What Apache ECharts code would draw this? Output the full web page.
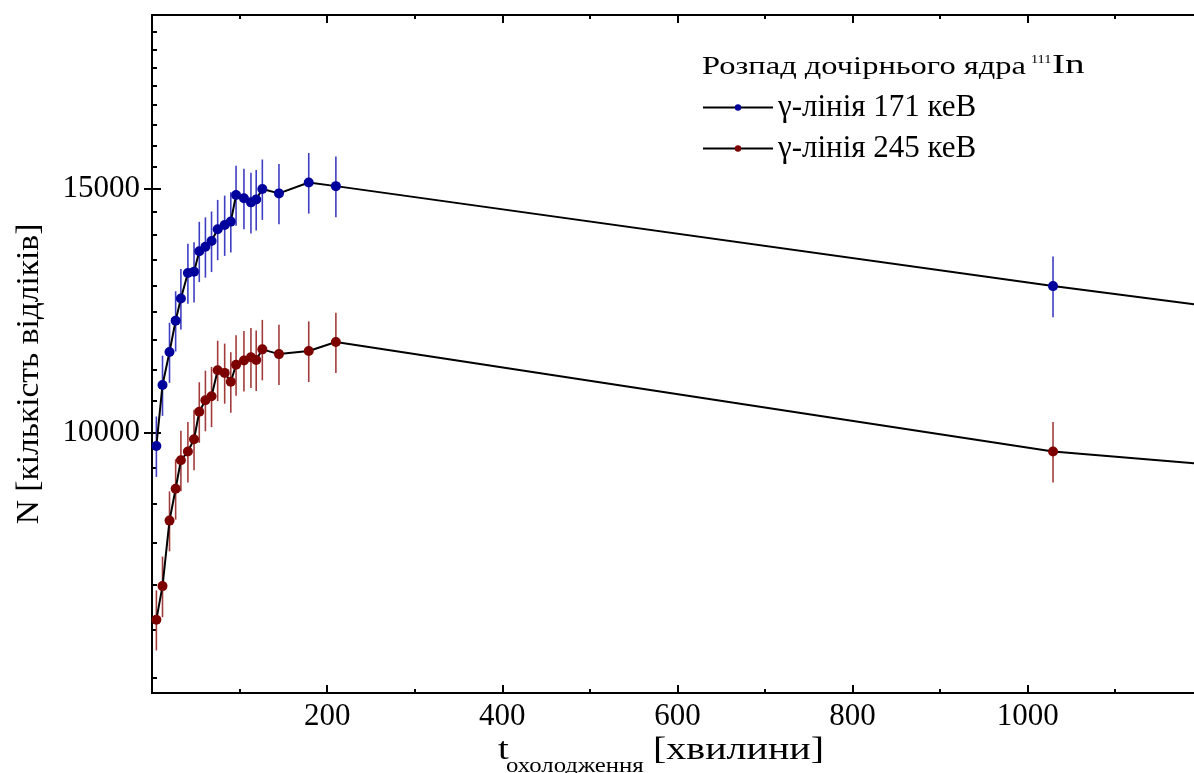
<!DOCTYPE html>
<html>
<head>
<meta charset="utf-8">
<script src="https://cdn.jsdelivr.net/npm/echarts@6/dist/echarts.min.js"></script>
<style>
html,body{margin:0;padding:0;background:#fff;}
#chart{width:1194px;height:773px;}
</style>
</head>
<body>
<div id="chart"></div>
<script>
// cooling time, minutes (last value lies beyond the visible axis; the line runs off the right edge)
const coolTime = [5,12,20,27,33,41,48,54,61,68,75,83,90,96,105,113,119,126,145,179,210,1029,1300];
// counts, 171 keV gamma line
const counts171 = [9790,10830,11440,12050,12500,13040,13070,13520,13620,13750,14020,14120,14200,14840,14760,14660,14730,14990,14880,15150,15060,12760,12130];
const err171 = [490,540,570,600,625,650,650,675,680,690,700,705,710,740,740,735,735,750,745,760,755,640];
// counts, 245 keV gamma line
const counts245 = [7340,7760,8650,9120,9560,9700,9900,10360,10560,10630,11100,11050,10890,11200,11280,11340,11290,11490,11400,11460,11630,9700,9385];
const err245 = [365,390,430,455,480,485,495,520,530,530,555,550,545,560,565,565,565,575,570,575,580,485];

const xMajorTicks = [0,200,400,600,800,1000];
const xLabels = [200,400,600,800,1000];
const xMinorTicks = [100,300,500,700,900,1100];
const yLabels = [10000,15000];
const yMinorTicks = [];
for (let k = 1; k < 27; k++) { const v = 5000 + k * 5000 / 9; if (v > 6500 && v < 20000 && Math.abs(v-10000)>1 && Math.abs(v-15000)>1) yMinorTicks.push(v); }

const seriesNames = ['γ-лінія 171 кеВ', 'γ-лінія 245 кеВ'];
const markerColors = ['#00009c', '#7d0000'];
const barColors = ['#3e3ec4', '#a23c3c'];

const FONT = '"Liberation Serif", "DejaVu Serif", serif';

function pairs(ys) { return coolTime.map((t, i) => [t, ys[i]]); }
function bars(ys, es) { return es.map((e, i) => [coolTime[i], ys[i] - e, ys[i] + e]); }

function errSeries(ys, es, color) {
  return {
    type: 'custom', xAxisIndex: 0, yAxisIndex: 0, z: 1, silent: true,
    data: bars(ys, es),
    encode: { x: 0, y: [1, 2] },
    renderItem: function (params, api) {
      const a = api.coord([api.value(0), api.value(1)]);
      const b = api.coord([api.value(0), api.value(2)]);
      return { type: 'line', shape: { x1: a[0], y1: a[1], x2: b[0], y2: b[1] },
               style: { stroke: color, lineWidth: 1.6 } };
    }
  };
}
function lineSeries(name, ys, color) {
  return {
    name: name, type: 'line', xAxisIndex: 0, yAxisIndex: 0, z: 3,
    data: pairs(ys), symbol: 'circle', symbolSize: 10, showAllSymbol: true,
    itemStyle: { color: color }, lineStyle: { color: '#000', width: 2 },
    clip: true
  };
}

const X = { min: 0, max: 1190 };
const Y = { min: 6500, max: 20000 };
const axLine = { show: true, lineStyle: { color: '#000', width: 2 } };
const plain = v => String(Math.round(v));

const option = {
  animation: false,
  grid: { left: 152, right: -2, top: 15, bottom: 80, containLabel: false },
  xAxis: [
    { type: 'value', position: 'bottom', min: X.min, max: X.max, axisLine: axLine,
      axisTick: { inside: true, length: 8, lineStyle: { width: 2, color: '#000' }, customValues: xMajorTicks },
      axisLabel: { customValues: xLabels, formatter: plain, margin: 8, fontFamily: FONT, fontSize: 31, color: '#000' },
      splitLine: { show: false } },
    { type: 'value', position: 'bottom', min: X.min, max: X.max, axisLine: { show: false },
      axisTick: { inside: true, length: 4, lineStyle: { width: 2, color: '#000' }, customValues: xMinorTicks },
      axisLabel: { show: false }, splitLine: { show: false } },
    { type: 'value', position: 'top', min: X.min, max: X.max, axisLine: axLine,
      axisTick: { inside: true, length: 8, lineStyle: { width: 2, color: '#000' }, customValues: xMajorTicks },
      axisLabel: { show: false }, splitLine: { show: false } },
    { type: 'value', position: 'top', min: X.min, max: X.max, axisLine: { show: false },
      axisTick: { inside: true, length: 4, lineStyle: { width: 2, color: '#000' }, customValues: xMinorTicks },
      axisLabel: { show: false }, splitLine: { show: false } }
  ],
  yAxis: [
    { type: 'log', logBase: 10, position: 'left', min: Y.min, max: Y.max, axisLine: axLine,
      axisTick: { inside: true, length: 9, lineStyle: { width: 2, color: '#000' }, customValues: yLabels },
      axisLabel: { customValues: yLabels, formatter: plain, margin: 12, fontFamily: FONT, fontSize: 31, color: '#000' },
      splitLine: { show: false }, minorTick: { show: false } },
    { type: 'log', logBase: 10, position: 'left', min: Y.min, max: Y.max, axisLine: { show: false },
      axisTick: { inside: true, length: 5, lineStyle: { width: 2, color: '#000' }, customValues: yMinorTicks },
      axisLabel: { show: false }, splitLine: { show: false } },
    { type: 'log', logBase: 10, position: 'right', min: Y.min, max: Y.max, axisLine: axLine,
      axisTick: { inside: true, length: 8, lineStyle: { width: 2, color: '#000' }, customValues: yLabels },
      axisLabel: { show: false }, splitLine: { show: false } }
  ],
  legend: {
    left: 697, top: 82, orient: 'vertical', itemGap: 0, itemWidth: 70, itemHeight: 8,
    data: seriesNames, selectedMode: false,
    textStyle: { fontFamily: FONT, fontSize: 31, color: '#000', lineHeight: 41 }
  },
  graphic: [
    { type: 'text', left: 702, top: 54, scaleX: 1.25, style: { text: 'Розпад дочірнього ядра', font: '26px ' + FONT, fill: '#000' } },
    { type: 'text', left: 1031, top: 53, scaleX: 1.1, style: { text: '111', font: '13px ' + FONT, fill: '#000' } },
    { type: 'text', left: 1052, top: 52, scaleX: 1.4, style: { text: 'In', font: '28px ' + FONT, fill: '#000' } },
    { type: 'text', x: 30, y: 374, rotation: Math.PI / 2, scaleX: 1.08,
      style: { text: 'N [кількість відліків]', font: '31px ' + FONT, fill: '#000', align: 'center', verticalAlign: 'middle' } },
    { type: 'text', left: 498, top: 735, scaleX: 1.25, style: { text: 't', font: '31px ' + FONT, fill: '#000' } },
    { type: 'text', left: 506, top: 757, scaleX: 1.24, style: { text: 'охолодження', font: '20px ' + FONT, fill: '#000' } },
    { type: 'text', left: 653, top: 735, scaleX: 1.29, style: { text: '[хвилини]', font: '31px ' + FONT, fill: '#000' } }
  ],
  series: [
    errSeries(counts171, err171, barColors[0]),
    errSeries(counts245, err245, barColors[1]),
    lineSeries(seriesNames[0], counts171, markerColors[0]),
    lineSeries(seriesNames[1], counts245, markerColors[1])
  ]
};
const chart = echarts.init(document.getElementById('chart'), null, { renderer: 'canvas' });
chart.setOption(option);
</script>
</body>
</html>
